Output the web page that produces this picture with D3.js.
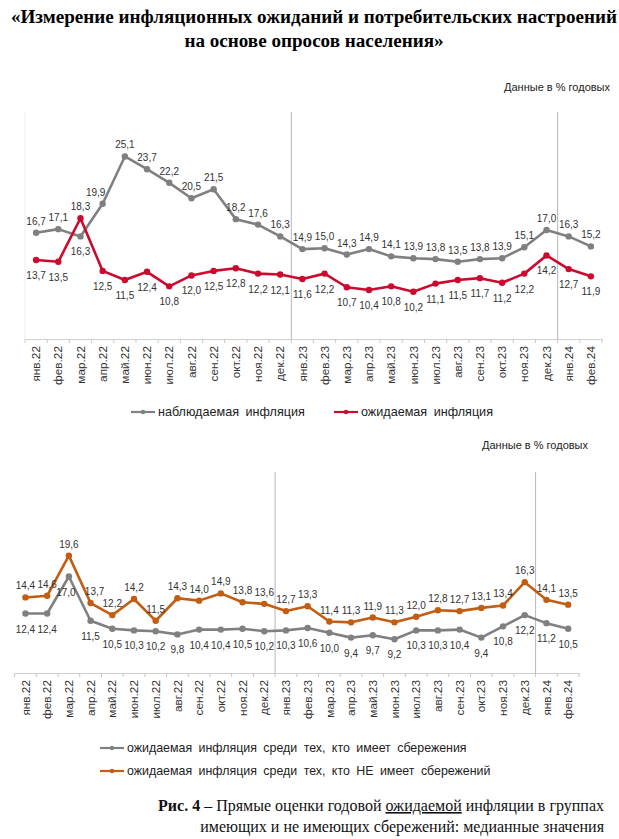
<!DOCTYPE html>
<html>
<head>
<meta charset="utf-8">
<script src="https://cdn.jsdelivr.net/npm/d3@7"></script>
<style>
  body { margin: 0; background: #fff; }
  svg { display: block; }
</style>
</head>
<body>
<div id="chart"></div>
<script>
// months shared by both panels
var months = ["янв.22","фев.22","мар.22","апр.22","май.22","июн.22","июл.22","авг.22","сен.22","окт.22","ноя.22","дек.22",
              "янв.23","фев.23","мар.23","апр.23","май.23","июн.23","июл.23","авг.23","сен.23","окт.23","ноя.23","дек.23",
              "янв.24","фев.24"];

// top panel
var observed = [16.7,17.1,16.3,19.9,25.1,23.7,22.2,20.5,21.5,18.2,17.6,16.3,14.9,15.0,14.3,14.9,14.1,13.9,13.8,13.5,13.8,13.9,15.1,17.0,16.3,15.2];
var expected = [13.7,13.5,18.3,12.5,11.5,12.4,10.8,12.0,12.5,12.8,12.2,12.1,11.6,12.2,10.7,10.4,10.8,10.2,11.1,11.5,11.7,11.2,12.2,14.2,12.7,11.9];

// bottom panel
var withSavings = [12.4,12.4,17.0,11.5,10.5,10.3,10.2,9.8,10.4,10.4,10.5,10.2,10.3,10.6,10.0,9.4,9.7,9.2,10.3,10.3,10.4,9.4,10.8,12.2,11.2,10.5];
var noSavings   = [14.4,14.6,19.6,13.7,12.2,14.2,11.5,14.3,14.0,14.9,13.8,13.6,12.7,13.3,11.4,11.3,11.9,11.3,12.0,12.8,12.7,13.1,13.4,16.3,14.1,13.5];

var yearStarts = ["янв.23","янв.24"];

var W = 619, H = 839;
var fmt = function(v) { return d3.format(".1f")(v).replace(".", ","); };
var sans = "Liberation Sans, Arial, sans-serif";
var serif = "Liberation Serif, Times New Roman, serif";

var svg = d3.select("#chart").append("svg")
    .attr("width", W)
    .attr("height", H);

// title
svg.append("text")
    .attr("x", 314).attr("y", 23)
    .attr("text-anchor", "middle")
    .style("font-family", serif).style("font-weight", "bold").style("font-size", "19.1px")
    .text("«Измерение инфляционных ожиданий и потребительских настроений");
svg.append("text")
    .attr("x", 314).attr("y", 47)
    .attr("text-anchor", "middle")
    .style("font-family", serif).style("font-weight", "bold").style("font-size", "19.1px")
    .text("на основе опросов населения»");

function panel(opt) {
    var x = d3.scaleBand().domain(months).range([opt.x0, opt.x1]);
    var y = d3.scaleLinear().domain([5, 30]).range([opt.yBottom, opt.yTop]);
    var g = svg.append("g");

    g.append("text")
        .attr("x", opt.unitsX).attr("y", opt.unitsY)
        .attr("text-anchor", "end")
        .style("font-family", sans).style("font-size", "11px").style("fill", "#222")
        .text("Данные в % годовых");

    if (opt.leftLine) {
        g.append("line")
            .attr("x1", opt.x0).attr("x2", opt.x0)
            .attr("y1", y(30)).attr("y2", y(5))
            .style("stroke", "#ececec");
    }

    // year separators
    g.selectAll(".sep").data(yearStarts).enter().append("line")
        .attr("x1", function(d) { return x(d); })
        .attr("x2", function(d) { return x(d); })
        .attr("y1", y(30)).attr("y2", y(5))
        .style("stroke", "#b8b8b8");

    var xAxis = d3.axisBottom(x).tickSize(0).tickPadding(0);
    var ax = g.append("g")
        .attr("transform", "translate(0," + y(5) + ")")
        .call(xAxis);
    ax.select(".domain").style("stroke", "#d0d0d0");
    ax.selectAll("text")
        .attr("transform", "rotate(-90)")
        .attr("x", -7).attr("y", 0).attr("dy", "0.35em")
        .style("text-anchor", "end")
        .style("font-family", sans).style("font-size", "11.8px").style("fill", "#333");

    // boundary ticks
    var bounds = months.map(function(m) { return x(m); }).concat([opt.x1]);
    g.selectAll(".btick").data(bounds).enter().append("line")
        .attr("x1", function(d) { return d; }).attr("x2", function(d) { return d; })
        .attr("y1", y(5)).attr("y2", y(5) + 4)
        .style("stroke", "#c8c8c8");

    var cx = function(d, i) { return x(months[i]) + x.bandwidth() / 2; };
    var line = d3.line()
        .x(cx)
        .y(function(d) { return y(d); });

    opt.series.forEach(function(s) {
        g.append("path")
            .datum(s.values)
            .attr("d", line)
            .style("fill", "none")
            .style("stroke", s.color)
            .style("stroke-width", 2.6)
            .style("stroke-linejoin", "round");
        g.selectAll(null).data(s.values).enter().append("circle")
            .attr("cx", cx)
            .attr("cy", function(d) { return y(d); })
            .attr("r", 3.2)
            .style("fill", s.color);
        g.selectAll(null).data(s.values).enter().append("text")
            .attr("x", function(d, i) { return cx(d, i) + ((s.shift && s.shift[i]) || 0); })
            .attr("y", function(d, i) {
                var above = s.above;
                if (s.flip && s.flip.indexOf(i) > -1) above = !above;
                return y(d) + (above ? -8 : 19);
            })
            .attr("text-anchor", "middle")
            .style("font-family", sans).style("font-size", "10px").style("fill", "#333")
            .text(function(d) { return fmt(d); });
    });

    // legend
    opt.legend.forEach(function(l) {
        g.append("line")
            .attr("x1", l.x).attr("x2", l.x + 24)
            .attr("y1", l.y).attr("y2", l.y)
            .style("stroke", l.color).style("stroke-width", 2.2);
        g.append("circle")
            .attr("cx", l.x + 12).attr("cy", l.y).attr("r", 2.2)
            .style("fill", l.color);
        g.append("text")
            .attr("x", l.x + 27).attr("y", l.y).attr("dy", "0.35em")
            .style("font-family", sans).style("font-size", l.size).style("fill", "#222")
            .style("word-spacing", "3px")
            .text(l.name);
    });
}

var grey = "#808080", red = "#cc0a2e", orange = "#c25d12";

panel({
    x0: 25, x1: 602, yTop: 112, yBottom: 339,
    unitsX: 610, unitsY: 91, leftLine: true,
    series: [
        { values: observed, color: grey, above: true, flip: [2], shift: { 3: -7 } },
        { values: expected, color: red, above: false, flip: [2] }
    ],
    legend: [
        { x: 131, y: 412, color: grey, size: "12.6px", name: "наблюдаемая инфляция" },
        { x: 334, y: 412, color: red, size: "12.6px", name: "ожидаемая инфляция" }
    ]
});

panel({
    x0: 14.6, x1: 579, yTop: 472, yBottom: 673,
    unitsX: 588, unitsY: 449, leftLine: false,
    series: [
        { values: withSavings, color: grey, above: false, shift: { 2: -3 } },
        { values: noSavings, color: orange, above: true, shift: { 3: 4 } }
    ],
    legend: [
        { x: 100, y: 748, color: grey, size: "12.4px", name: "ожидаемая инфляция  среди тех, кто имеет сбережения" },
        { x: 100, y: 771, color: orange, size: "12.4px", name: "ожидаемая инфляция  среди тех, кто НЕ имеет сбережений" }
    ]
});

// caption
var cap1 = svg.append("text")
    .attr("x", 604).attr("y", 811)
    .attr("text-anchor", "end")
    .style("font-family", serif).style("font-size", "16px").style("fill", "#111");
cap1.append("tspan").style("font-weight", "bold").text("Рис. 4");
cap1.append("tspan").text(" – Прямые оценки годовой ");
cap1.append("tspan").style("text-decoration", "underline").text("ожидаемой");
cap1.append("tspan").text(" инфляции в группах");
svg.append("text")
    .attr("x", 604).attr("y", 832)
    .attr("text-anchor", "end")
    .style("font-family", serif).style("font-size", "16px").style("fill", "#111")
    .text("имеющих и не имеющих сбережений: медианные значения");
</script>
</body>
</html>
